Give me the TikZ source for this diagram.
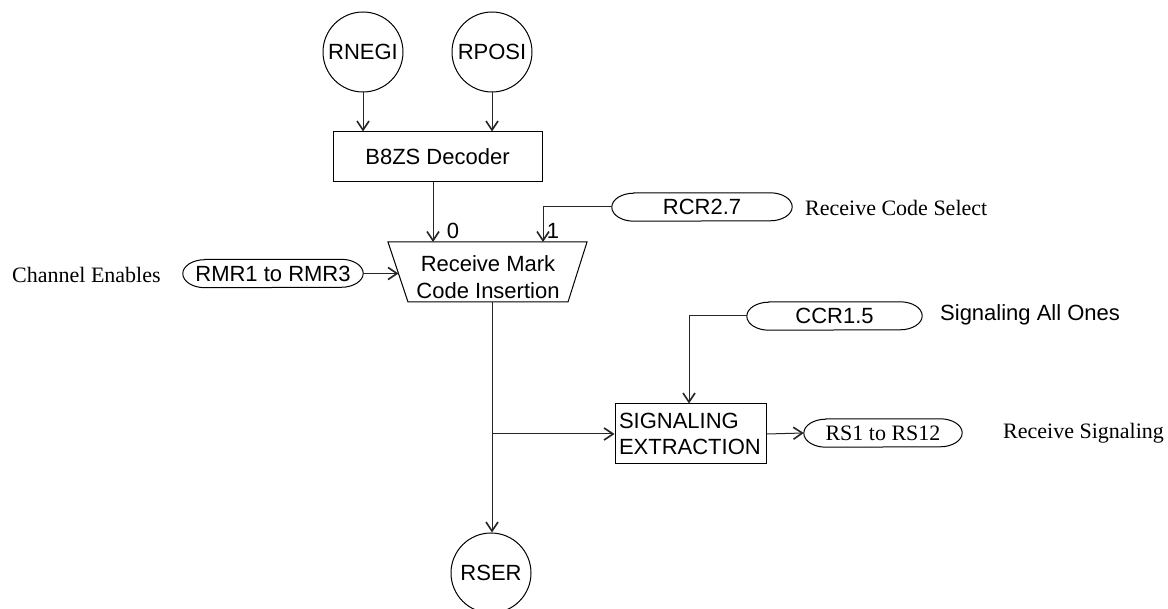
\documentclass[tikz,border=0pt]{standalone}
\usepackage{fontspec}
\setmainfont{Liberation Serif}
\newfontfamily\arialf{Liberation Sans}
\usetikzlibrary{arrows.meta}
\newcommand\pillshape[1]{\draw[shapeline] ([xshift=22pt]#1.north west) -- ([xshift=-22pt]#1.north east) arc[start angle=90,end angle=-90,x radius=22pt,y radius=14pt] -- ([xshift=22pt]#1.south west) arc[start angle=270,end angle=90,x radius=22pt,y radius=14pt] -- cycle;}
\begin{document}
\begin{tikzpicture}[x=1pt,y=-1pt,
  shapeline/.style={line width=1pt,draw=black},
  sans/.style={font=\arialf\fontsize{22}{26.5}\selectfont},
  serif/.style={font=\fontsize{22}{26.5}\selectfont},
  circ/.style={circle,shapeline,minimum size=80pt,inner sep=0pt,sans},
  box/.style={rectangle,shapeline,inner sep=0pt,sans},
  pill/.style={rectangle,draw=none,minimum height=28pt,inner sep=0pt},
  plain/.style={inner sep=0pt},
  arr/.style={line width=1pt,draw=black!85,-{Straight Barb[length=9pt,width=12pt,line width=1.6pt]}}
]
\useasboundingbox (0,0) rectangle (1168,609);

% circles
\node[circ] (rnegi) at (363,52) {RNEGI};
\node[circ] (rposi) at (492,52) {RPOSI};
\node[circ] (rser) at (491,573) {RSER};

% B8ZS decoder
\node[box,minimum width=209pt,minimum height=50pt] (b8zs) at (437.5,157) {B8ZS Decoder};

% Receive mark code insertion (trapezoid)
\draw[shapeline] (388,242) -- (587,242) -- (568,302) -- (408,302) -- cycle;
\node[plain,sans,align=center] (rmci) at (488,277) {Receive Mark\\Code Insertion};

% signaling extraction
\node[box,minimum width=151pt,minimum height=60pt,align=left,text width=143pt] (sig) at (690.5,434) {SIGNALING\\EXTRACTION};

% pills
\node[pill,minimum width=180pt,sans] (rmr) at (273,273.5) {RMR1 to RMR3};
\pillshape{rmr}
\node[pill,minimum width=180pt,sans] (rcr) at (702,207) {RCR2.7};
\pillshape{rcr}
\node[pill,minimum width=175pt,sans] (ccr) at (834.5,316) {CCR1.5};
\pillshape{ccr}
\node[pill,minimum width=158pt,serif] (rs) at (883,433) {RS1 to RS12};
\pillshape{rs}

% labels
\node[plain,serif,anchor=west] (lce) at (12,275) {Channel Enables};
\node[plain,serif,anchor=west] (lrcs) at (805,208) {Receive Code Select};
\node[plain,sans,anchor=west] (lsao) at (940,315) {Signaling All Ones};
\node[plain,serif,anchor=west] (lrs) at (1003,433) {Receive Signaling};
\node[plain,sans] (l0) at (453,231) {0};
\node[plain,sans] (l1) at (553,231) {1};

% connection points on the trapezoid
\coordinate (in0) at (433,242);
\coordinate (in1) at (543,242);
\coordinate (inL) at (398.5,273.5);
\coordinate (out) at (492,302);

% connectors
\draw[arr] (rnegi.south) -- (rnegi.south |- b8zs.north);
\draw[arr] (rposi.south) -- (rposi.south |- b8zs.north);
\draw[arr] (in0 |- b8zs.south) -- (in0);
\draw[arr] (rcr.west) -| (in1);
\draw[arr] (rmr.east) -- (inL);
\draw[arr] (out) -- (out |- rser.north);
\draw[arr] (out |- sig.west) -- (sig.west);
\draw[arr] (ccr.west) -| ([xshift=-1.5pt]sig.north);
\draw[arr] (sig.east) -- (rs.west);
\end{tikzpicture}
\end{document}
